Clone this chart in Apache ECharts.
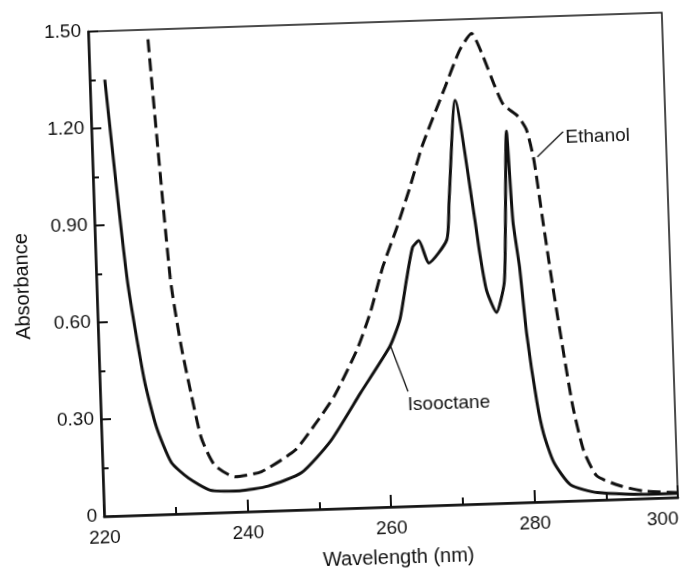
<!DOCTYPE html>
<html>
<head>
<meta charset="utf-8">
<script src="https://cdn.jsdelivr.net/npm/echarts@6/dist/echarts.min.js"></script>
<style>
html, body { margin: 0; padding: 0; background: #fff; overflow: hidden; }
/* the scanned figure sits about 2 degrees off level */
#chart { width: 690px; height: 574px; transform-origin: 383px 264.5px; transform: rotate(-1.9deg); }
</style>
</head>
<body>
<div id="chart"></div>
<script>
// wavelength (nm) and absorbance
const isooctaneX = [222.1, 224.3, 226.2, 227.7, 229.6, 231.9, 234.9, 239.0, 243.0, 247.7, 251.9, 256.3, 260.6, 262.1, 263.2, 264.2, 265.1, 266.4, 269.0, 269.5, 270.8, 273.0, 273.5, 274.3, 275.6, 276.8, 277.2, 277.8, 278.3, 279.0, 279.7, 280.8, 281.6, 282.9, 285.1, 288.8, 296.6, 300.0]
const isooctaneY = [1.35, 0.73, 0.42, 0.27, 0.16, 0.11, 0.07, 0.065, 0.077, 0.115, 0.21, 0.356, 0.497, 0.578, 0.70, 0.80, 0.82, 0.75, 0.82, 0.94, 1.25, 0.88, 0.78, 0.66, 0.59, 0.68, 0.84, 1.15, 0.87, 0.73, 0.52, 0.31, 0.21, 0.12, 0.05, 0.023, 0.012, 0.012]

const ethanolX = [228.3, 230.3, 231.5, 232.7, 233.9, 235.6, 238.4, 242.1, 246.9, 249.7, 252.6, 256.0, 258.0, 260.0, 262.0, 264.0, 266.0, 269.5, 271.7, 273.4, 274.7, 276.4, 277.5, 279.5, 280.6, 281.5, 282.4, 283.5, 284.7, 285.8, 287.1, 288.8, 292.1, 295.3, 300.0]
const ethanolY = [1.47, 0.73, 0.52, 0.367, 0.232, 0.148, 0.109, 0.122, 0.185, 0.26, 0.348, 0.49, 0.602, 0.745, 0.857, 0.979, 1.112, 1.294, 1.406, 1.455, 1.395, 1.29, 1.232, 1.194, 1.152, 1.058, 0.882, 0.673, 0.466, 0.29, 0.154, 0.075, 0.041, 0.023, 0.015]

// curve labels with their leader lines (data coordinates)
const notes = [
  { text: 'Ethanol', from: [282.0, 1.067], to: [285.7, 1.142], at: [286.0, 1.122] },
  { text: 'Isooctane', from: [260.6, 0.502], to: [262.9, 0.355], at: [262.8, 0.314] }
]

const font = 'Liberation Sans, Arial, Helvetica, sans-serif'
const ink = '#111'

function pairs (xs, ys) {
  return xs.map((x, i) => [x, ys[i]])
}

let myChart = echarts.init(document.getElementById('chart'))
myChart.setOption({
  backgroundColor: '#fff',
  animation: false,
  grid: {
    left: 96,
    right: 20,
    top: 22,
    bottom: 67,
    show: true,
    borderColor: ink,
    borderWidth: 1.5
  },
  xAxis: {
    type: 'value',
    min: 220,
    max: 300,
    interval: 20,
    name: 'Wavelength (nm)',
    nameLocation: 'middle',
    nameGap: 41,
    nameTextStyle: { color: ink, fontSize: 20, fontFamily: font, padding: [0, 0, 0, 12] },
    axisLine: { lineStyle: { color: ink, width: 2.5 } },
    axisTick: { inside: true, length: 12, lineStyle: { color: ink, width: 2 } },
    minorTick: { show: true, splitNumber: 2, length: 7, lineStyle: { color: ink, width: 2 } },
    splitLine: { show: false },
    axisLabel: { color: ink, fontSize: 19, fontFamily: font, margin: 12, alignMaxLabel: 'right' }
  },
  yAxis: {
    type: 'value',
    min: 0,
    max: 1.5,
    interval: 0.3,
    name: 'Absorbance',
    nameLocation: 'middle',
    nameGap: 64,
    nameTextStyle: { color: ink, fontSize: 20, fontFamily: font, padding: [0, 20, 0, 0] },
    axisLine: { show: true, lineStyle: { color: ink, width: 2.5 } },
    axisTick: { show: true, inside: true, length: 10, lineStyle: { color: ink, width: 2 } },
    minorTick: { show: true, splitNumber: 2, length: 6, lineStyle: { color: ink, width: 2 } },
    splitLine: { show: false },
    axisLabel: {
      color: ink,
      fontSize: 19,
      fontFamily: font,
      margin: 7,
      formatter: function (v) {
        return v === 0 ? '0' : v.toFixed(2)
      }
    }
  },
  series: [
    {
      name: 'Isooctane',
      type: 'line',
      data: pairs(isooctaneX, isooctaneY),
      showSymbol: false,
      smooth: 0.2,
      lineStyle: { color: ink, width: 3 }
    },
    {
      name: 'Ethanol',
      type: 'line',
      data: pairs(ethanolX, ethanolY),
      showSymbol: false,
      smooth: 0.2,
      lineStyle: { color: ink, width: 3, type: [13, 6] }
    }
  ]
})

// leader lines and curve names, placed through the chart's own scales
let graphics = []
for (let n of notes) {
  let a = myChart.convertToPixel({ gridIndex: 0 }, n.from)
  let b = myChart.convertToPixel({ gridIndex: 0 }, n.to)
  let t = myChart.convertToPixel({ gridIndex: 0 }, n.at)
  graphics.push({
    type: 'line',
    shape: { x1: a[0], y1: a[1], x2: b[0], y2: b[1] },
    style: { stroke: ink, lineWidth: 1.3 }
  })
  graphics.push({
    type: 'text',
    x: t[0],
    y: t[1],
    style: {
      text: n.text,
      fill: ink,
      font: '19px ' + font,
      textAlign: 'left',
      textVerticalAlign: 'middle'
    }
  })
}
myChart.setOption({ graphic: graphics })
</script>
</body>
</html>
